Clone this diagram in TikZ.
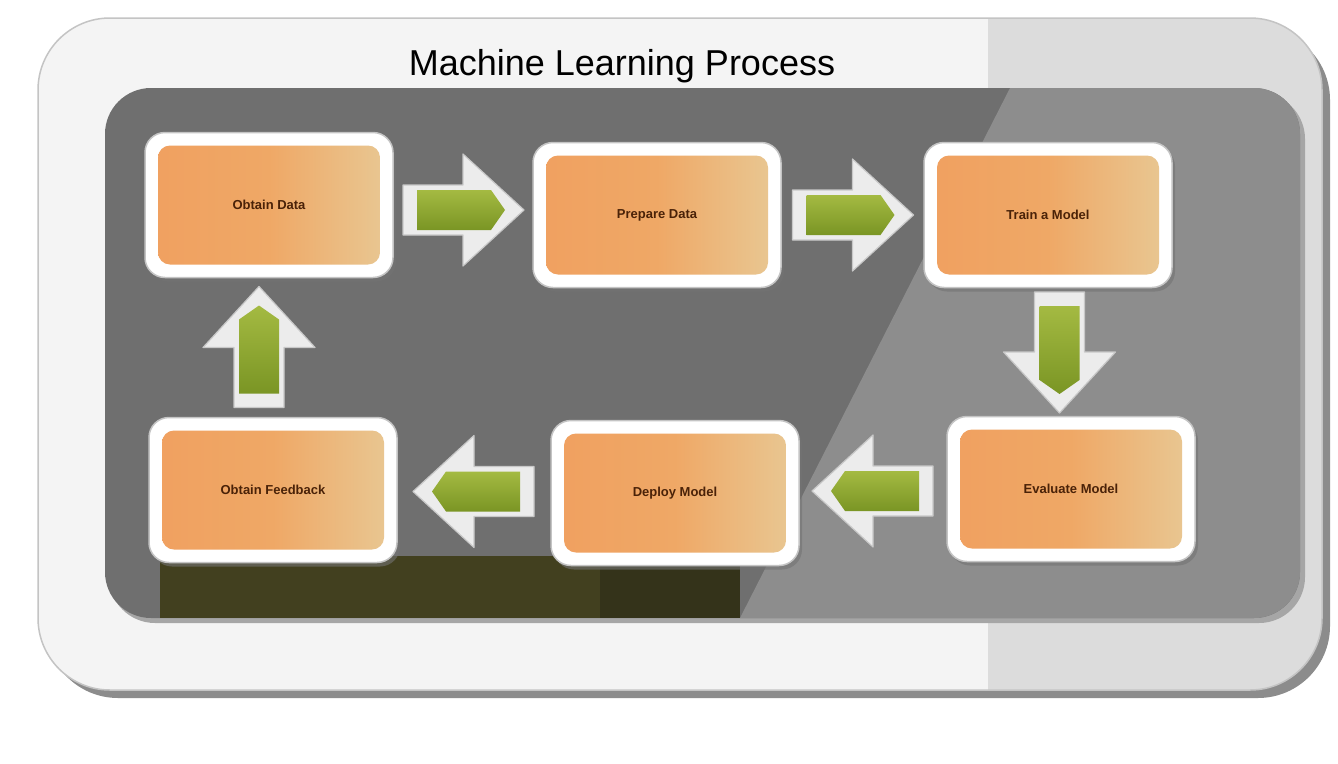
\documentclass[tikz,border=0pt]{standalone}
\usepackage{fontspec}
\setmainfont{Liberation Sans}
\usetikzlibrary{calc,shadows}
\definecolor{framebg}{HTML}{F4F4F4}
\definecolor{frameband}{HTML}{DCDCDC}
\definecolor{frameline}{HTML}{C4C4C4}
\definecolor{panelL}{HTML}{6F6F6F}
\definecolor{panelR}{HTML}{8D8D8D}
\definecolor{olive}{HTML}{42401F}
\definecolor{oliveB}{HTML}{34331A}
\definecolor{boxL}{HTML}{F0A060}
\definecolor{boxM}{HTML}{EFA866}
\definecolor{boxR}{HTML}{E8C995}
\definecolor{boxtext}{HTML}{4A2208}
\definecolor{arrowbg}{HTML}{ECECEC}
\definecolor{arrowline}{HTML}{C8C8C8}
\definecolor{greenT}{HTML}{A4BA42}
\definecolor{greenB}{HTML}{7A9524}
\tikzset{
  mlbox/.style={rounded corners=20, draw=frameline, line width=1.5pt, fill=white,
    minimum width=248, minimum height=145, inner sep=0pt,
    text=boxtext, font=\bfseries\fontsize{13}{16}\selectfont,
    drop shadow={shadow xshift=3pt, shadow yshift=-4pt, fill=black!55, opacity=0.6},
    path picture={
      \shade[left color=boxL, right color=boxR, middle color=boxM, rounded corners=12]
        ($(path picture bounding box.south west)+(13,-13)$) rectangle
        ($(path picture bounding box.north east)+(-13,13)$);
    }},
  arrowouter/.style={fill=arrowbg, draw=arrowline, line width=1.2pt, line join=round},
  arrowinner/.style={top color=greenT, bottom color=greenB, draw=none},
  titletext/.style={font=\fontsize{36}{40}\selectfont, text=black}
}
\newcommand{\blockarrow}[2]{%
  \begin{scope}[shift={#1}, rotate=#2]
    \path[arrowouter] (-60,-25) -- (0,-25) -- (0,-56) -- (61,0) -- (0,56) -- (0,25) -- (-60,25) -- cycle;
    \path[arrowinner] (-46,-20) -- (28,-20) -- (42,0) -- (28,20) -- (-46,20) -- cycle;
  \end{scope}}
\begin{document}
\begin{tikzpicture}[x=1pt,y=-1pt]
\useasboundingbox (0,0) rectangle (1338,763);
\fill[white] (0,0) rectangle (1338,763);

% outer frame
\fill[black!45, rounded corners=72] (46,28) rectangle (1330,698);
\fill[framebg, rounded corners=72] (38,18) rectangle (1322,690);
\begin{scope}
  \clip[rounded corners=72] (38,18) rectangle (1322,690);
  \fill[frameband] (988,18) rectangle (1322,690);
\end{scope}
\draw[frameline, line width=1.5pt, rounded corners=72] (38,18) rectangle (1322,690);

% title
\node[titletext] (title) at (622,66) {Machine Learning Process};

% inner panel
\fill[black!35, rounded corners=46] (109,93) rectangle (1305,623);
\fill[panelL, rounded corners=46] (105,88) rectangle (1300,618);
\begin{scope}
  \clip[rounded corners=46] (105,88) rectangle (1300,618);
  \fill[panelR] (1010,88) -- (1300,88) -- (1300,618) -- (740,618) -- cycle;
  \fill[olive] (160,556) rectangle (600,618);
  \fill[oliveB] (600,556) rectangle (740,618);
\end{scope}

% process boxes
\node[mlbox] (obtain)   at (269,205) {Obtain Data};
\node[mlbox] (prepare)  at (657,215) {Prepare Data};
\node[mlbox] (train)    at (1048,215) {Train a Model};
\node[mlbox] (feedback) at (273,490) {Obtain Feedback};
\node[mlbox] (deploy)   at (675,493) {Deploy Model};
\node[mlbox] (evaluate) at (1071,489) {Evaluate Model};

% connectors (block arrows between boxes)
\coordinate (a1) at ($(obtain.east)!0.5!(prepare.west)$);
\coordinate (a2) at ($(prepare.east)!0.5!(train.west)$);
\coordinate (a3) at ($(train.south)!0.5!(evaluate.north)$);
\coordinate (a4) at ($(evaluate.west)!0.5!(deploy.east)$);
\coordinate (a5) at ($(deploy.west)!0.5!(feedback.east)$);
\coordinate (a6) at ($(feedback.north)!0.5!(obtain.south)+(-12,0)$);
\blockarrow{(a1)}{0}
\blockarrow{(a2)}{0}
\blockarrow{(a3)}{-90}
\blockarrow{(a4)}{180}
\blockarrow{(a5)}{180}
\blockarrow{(a6)}{90}
\end{tikzpicture}
\end{document}
